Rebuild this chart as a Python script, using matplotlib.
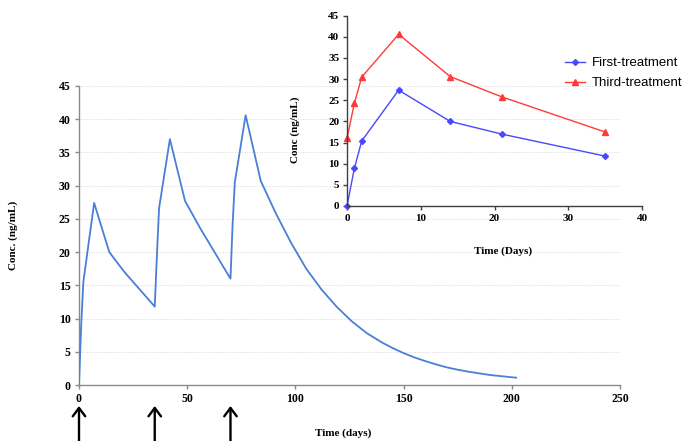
import matplotlib
matplotlib.use("Agg")
import matplotlib.pyplot as plt
import matplotlib.transforms as mtransforms

# ---- Main chart data (simulated concentration over time) ----
main_days = [0, 1, 2, 7, 14, 21, 35, 36, 37, 42, 49, 56, 70, 71, 72, 77, 84, 91, 98, 105,
             112, 119, 126, 133, 140, 145, 150, 155, 160, 165, 170, 175, 180, 185, 190, 196, 202]
main_conc = [0, 8.9, 15.5, 27.4, 20.0, 17.0, 11.8, 19.5, 26.6, 37.0, 27.7, 23.6, 16.0, 24.3, 30.5,
             40.6, 30.7, 25.8, 21.4, 17.5, 14.4, 11.8, 9.6, 7.8, 6.4, 5.55, 4.8, 4.15, 3.6, 3.1,
             2.65, 2.3, 2.0, 1.75, 1.5, 1.3, 1.1]
dose_days = [0, 35, 70]
main_xticks = [0, 50, 100, 150, 200, 250]
main_yticks = [0, 5, 10, 15, 20, 25, 30, 35, 40, 45]

# ---- Inset data ----
inset_days = [0, 1, 2, 7, 14, 21, 35]
first_treatment = [0, 8.9, 15.4, 27.4, 20.0, 17.0, 11.8]
third_treatment = [16.0, 24.3, 30.5, 40.6, 30.6, 25.8, 17.5]
inset_xticks = [0, 10, 20, 30, 40]
inset_yticks = [0, 5, 10, 15, 20, 25, 30, 35, 40, 45]

serif = "Liberation Serif"
W, H = 691, 441
fig = plt.figure(figsize=(W / 100, H / 100), dpi=100)

# ---- Main axes ----
ax = fig.add_axes([79 / W, 1 - 385 / H, (620 - 79) / W, (385 - 86) / H])
ax.plot(main_days, main_conc, color="#4a7fd6", lw=1.3, zorder=3)
ax.set_xlim(0, 250)
ax.set_ylim(0, 45)
ax.set_xticks(main_xticks)
ax.set_yticks(main_yticks)
for s in ["top", "right"]:
    ax.spines[s].set_visible(False)
for s in ["left", "bottom"]:
    ax.spines[s].set_color("#8a8a8a")
    ax.spines[s].set_linewidth(1.0)
ax.tick_params(axis="both", direction="out", length=3, color="#8a8a8a", width=1,
               labelsize=8.5, pad=3)
for lab in ax.get_xticklabels() + ax.get_yticklabels():
    lab.set_fontfamily(serif)
    lab.set_fontweight("bold")
ax.yaxis.grid(True, color="#d9d9d9", lw=0.7, ls=(0, (1, 1.5)))
ax.set_axisbelow(True)
ax.set_ylabel("Conc. (ng/mL)", fontfamily=serif, fontweight="bold", fontsize=8)
ax.yaxis.set_label_coords((18 - 79) / (620 - 79), 0.5)
ax.set_xlabel("Time (days)", fontfamily=serif, fontweight="bold", fontsize=8)
ax.xaxis.set_label_coords((343 - 79) / (620 - 79), (385 - 428) / (385 - 86))

# dosing arrows
trans = mtransforms.blended_transform_factory(ax.transData, ax.transAxes)
y_tip = (385 - 406) / (385 - 86)
y_bot = (385 - 450) / (385 - 86)
for d in dose_days:
    ax.annotate("", xy=(d, y_tip), xytext=(d, y_bot), xycoords=trans, textcoords=trans,
                arrowprops=dict(arrowstyle="->,head_length=0.6,head_width=0.45",
                                lw=1.7, color="black", shrinkA=0, shrinkB=0),
                annotation_clip=False)

# ---- Inset axes ----
ins = fig.add_axes([347 / W, 1 - 206 / H, (642 - 347) / W, (206 - 15.7) / H])
ins.patch.set_alpha(0)
ins.plot(inset_days, first_treatment, color="#4848ff", lw=1.0, marker="D", ms=3,
         label="First-treatment", clip_on=False)
ins.plot(inset_days, third_treatment, color="#ff3a3a", lw=1.0, marker="^", ms=4,
         label="Third-treatment", clip_on=False)
ins.set_xlim(0, 40)
ins.set_ylim(0, 45)
ins.set_xticks(inset_xticks)
ins.set_yticks(inset_yticks)
for s in ["top", "right"]:
    ins.spines[s].set_visible(False)
for s in ["left", "bottom"]:
    ins.spines[s].set_color("#404040")
    ins.spines[s].set_linewidth(1.0)
ins.tick_params(axis="both", direction="out", length=3, color="#404040", width=1,
                labelsize=8, pad=2.5)
for lab in ins.get_xticklabels() + ins.get_yticklabels():
    lab.set_fontfamily(serif)
    lab.set_fontweight("bold")
ins.set_xlabel("Time (Days)", fontfamily=serif, fontweight="bold", fontsize=8)
ins.xaxis.set_label_coords((503 - 347) / (642 - 347), (206 - 246) / (206 - 15.7))
ins.set_ylabel("Conc (ng/mL)", fontfamily=serif, fontweight="bold", fontsize=8)
ins.yaxis.set_label_coords((300 - 347) / (642 - 347), (206 - 130) / (206 - 15.7))

leg = ins.legend(loc="upper left", bbox_to_anchor=((565 - 347) / (642 - 347), (206 - 57) / (206 - 15.7)),
                 frameon=False, prop={"family": "Liberation Sans", "size": 9.5},
                 handlelength=1.5, handletextpad=0.5, labelspacing=0.6, borderaxespad=0,
                 borderpad=0)

fig.savefig("out.png", dpi=100)
